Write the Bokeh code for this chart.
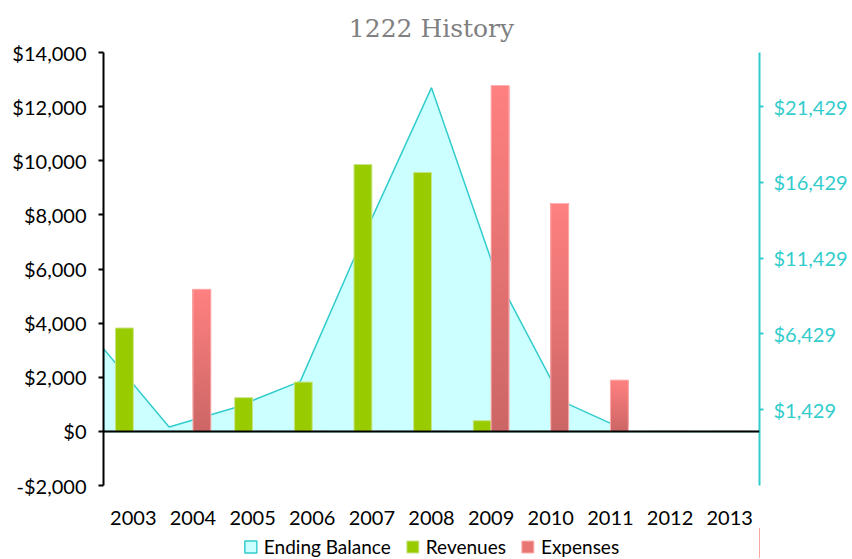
from bokeh.plotting import figure
from bokeh.layouts import column
from bokeh.models import (Range1d, LinearAxis, FixedTicker, NumeralTickFormatter, Span,
                          Legend, LegendItem, ColumnDataSource)
from bokeh.transform import dodge
from bokeh.embed import file_html
from bokeh.resources import INLINE

# ---- data ----
years = ["2003", "2004", "2005", "2006", "2007", "2008", "2009", "2010", "2011", "2012", "2013"]
revenues = [3820, 0, 1245, 1820, 9860, 9570, 395, 0, 0, 0, 0]
expenses = [0, 5250, 0, 0, 0, 0, 12780, 8420, 1895, 0, 0]
ending_balance = [5460, 285, 1565, 3300, 13200, 22680, 10190, 1960, 0, 0, 0]
left_ticks = [-2000, 0, 2000, 4000, 6000, 8000, 10000, 12000, 14000]
left_min, left_max = -2000, 14000
right_max = 25000
right_tick_step = 5000

right_scale = right_max / left_max
right_min = left_min * right_scale
right_ticks = [right_min + right_tick_step * k for k in range(1, 6)]

n = len(years)
centers = [i + 0.5 for i in range(n)]   # category band centres

CYAN = "#33CCCC"
AREA_FILL = "#CCFFFF"
GREEN = "#99CC00"
GREEN_EDGE = "#C8E48A"
RED = "#E87474"
RED_EDGE = "#FFB0B0"
RED_TOP = (0xFF, 0x80, 0x80)
RED_BOTTOM = (0xCC, 0x66, 0x66)
FONT = "Lato"
W = 850

p = figure(width=W, height=528, x_range=Range1d(0, n),
           y_range=Range1d(left_min, left_max),
           output_backend="svg", toolbar_location=None,
           min_border_left=103, min_border_right=91, min_border_top=52, min_border_bottom=43,
           title="1222 History")
p.extra_y_ranges = {"right": Range1d(right_min, right_max)}
p.extra_x_ranges = {"bal": Range1d(0, n - 1)}

p.outline_line_color = None
p.xgrid.visible = False
p.ygrid.visible = False
p.background_fill_color = "white"
p.border_fill_color = "white"

p.title.text_font = "DejaVu Serif"
p.title.text_font_size = "25px"
p.title.text_font_style = "normal"
p.title.text_color = "#808080"
p.title.align = "center"
p.title.standoff = 20

# area (ending balance) on secondary axes, spanning edge to edge
xs = list(range(n)) + [n - 1, 0]
ys = list(ending_balance) + [0, 0]
area = p.patch(xs, ys, x_range_name="bal", y_range_name="right",
               fill_color=AREA_FILL, line_color=CYAN, line_width=1.5)

src = ColumnDataSource(dict(x=centers, year=years, rev=revenues, exp=expenses))
rev_r = p.vbar(x=dodge("x", -0.15), top="rev", width=0.3, source=src,
               fill_color=GREEN, line_color=GREEN_EDGE, line_width=1)

# expenses: vertical gradient, nested rectangles each reaching the bar top
K = 30
gx, gb, gt, gc = [], [], [], []
for k in range(K):
    t = (k + 0.5) / K
    col = tuple(int(round(lo + (hi - lo) * t)) for lo, hi in zip(RED_BOTTOM, RED_TOP))
    for c, v in zip(centers, expenses):
        if v <= 0:
            continue
        gx.append(c)
        gb.append(v * k / K)
        gt.append(v)
        gc.append("#%02X%02X%02X" % col)
gsrc = ColumnDataSource(dict(x=gx, bottom=gb, top=gt, color=gc))
p.vbar(x=dodge("x", 0.15), bottom="bottom", top="top", width=0.3, source=gsrc,
       fill_color="color", line_color=None)
exp_r = p.vbar(x=dodge("x", 0.15), top="exp", width=0.3, source=src,
               fill_color=None, line_color=RED_EDGE, line_width=1)

p.add_layout(Span(location=0, dimension="width", line_color="black", line_width=2))

# left axis
la = p.left[0]
la.ticker = FixedTicker(ticks=left_ticks)
la.formatter = NumeralTickFormatter(format="$0,0")
la.axis_line_color = "black"
la.axis_line_width = 2
la.major_tick_line_color = "black"
la.major_tick_line_width = 2
la.major_tick_in = 0
la.major_tick_out = 5
la.minor_tick_line_color = None
la.major_label_text_font = FONT
la.major_label_text_font_size = "20px"
la.major_label_text_color = "black"
la.major_label_standoff = 12

# right axis
ra = LinearAxis(y_range_name="right", ticker=FixedTicker(ticks=right_ticks),
                formatter=NumeralTickFormatter(format="$0,0"))
ra.axis_line_color = CYAN
ra.axis_line_width = 2
ra.major_tick_line_color = CYAN
ra.major_tick_line_width = 2
ra.major_tick_in = 0
ra.major_tick_out = 4
ra.minor_tick_line_color = None
ra.major_label_text_font = FONT
ra.major_label_text_font_size = "20px"
ra.major_label_text_color = CYAN
ra.major_label_standoff = 10
p.add_layout(ra, "right")

# x axis (category labels)
xa = p.below[0]
xa.ticker = FixedTicker(ticks=centers)
xa.major_label_overrides = {c: y for c, y in zip(centers, years)}
xa.axis_line_color = None
xa.major_tick_line_color = None
xa.minor_tick_line_color = None
xa.major_label_text_font = FONT
xa.major_label_text_font_size = "20px"
xa.major_label_text_color = "black"
xa.major_label_standoff = 19

# ---- legend strip: same series styled alike, their marks lie outside this strip's view ----
lp = figure(width=W, height=30, x_range=Range1d(-3 * n, -2 * n), y_range=Range1d(0, 1),
            output_backend="svg", toolbar_location=None,
            x_axis_type=None, y_axis_type=None,
            min_border_left=0, min_border_right=0, min_border_top=0, min_border_bottom=0)
lp.outline_line_color = None
lp.xgrid.visible = False
lp.ygrid.visible = False
l_area = lp.patch(xs, ys, fill_color=AREA_FILL, line_color=CYAN, line_width=1.5)
l_rev = lp.vbar(x="x", top="rev", width=0.3, source=src,
                fill_color=GREEN, line_color=GREEN_EDGE, line_width=1)
l_exp = lp.vbar(x="x", top="exp", width=0.3, source=src,
                fill_color=RED, line_color=RED_EDGE, line_width=1)

legend = Legend(items=[LegendItem(label="Ending Balance", renderers=[l_area]),
                       LegendItem(label="Revenues", renderers=[l_rev]),
                       LegendItem(label="Expenses", renderers=[l_exp])],
                orientation="horizontal", location="bottom_center")
legend.label_text_font = FONT
legend.label_text_font_size = "19px"
legend.label_text_color = "black"
legend.glyph_width = 15
legend.glyph_height = 15
legend.label_standoff = 6
legend.spacing = 14
legend.padding = 0
legend.margin = 0
legend.border_line_color = None
legend.background_fill_alpha = 0
lp.add_layout(legend, "center")

layout = column(p, lp, spacing=0)
open("out.html", "w").write(file_html(layout, INLINE))
